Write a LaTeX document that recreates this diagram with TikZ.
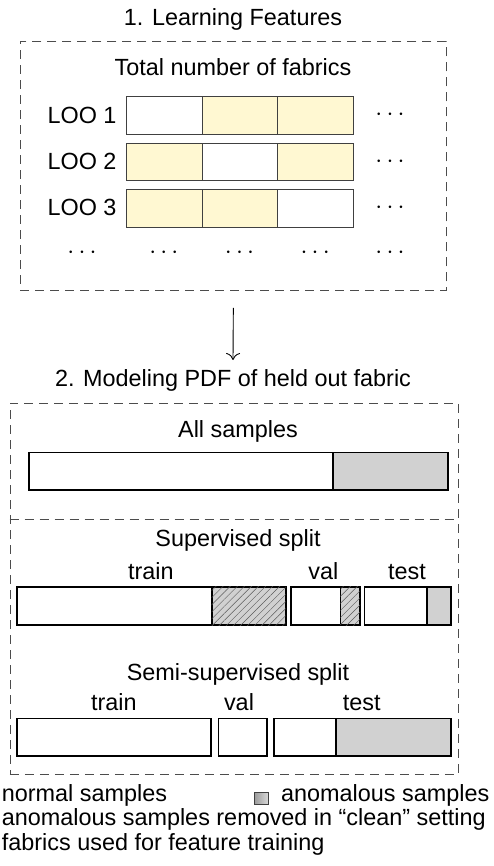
\documentclass[tikz,border=0pt]{standalone}
\usepackage{fontspec}
\setmainfont{Liberation Sans}
\usetikzlibrary{arrows.meta,patterns.meta}
\definecolor{fy}{HTML}{FFF8D2}
\definecolor{ag}{HTML}{D1D1D1}
\begin{document}
\begin{tikzpicture}[x=1pt,y=-1pt,
  every node/.style={font=\fontsize{23.4}{28}\selectfont, inner sep=0pt},
  txt/.style={anchor=base},
  cell/.style={draw=black!75, line width=0.9pt, minimum width=75.7pt, minimum height=37.7pt, anchor=north west},
  dots/.style={anchor=base},
  dashbox/.style={draw=black!70, line width=0.9pt, dash pattern=on 9pt off 6pt},
  bar/.style={draw=black, line width=1.6pt},
  hatch/.style={bar, fill=ag, postaction={pattern={Lines[angle=45,distance=5pt,line width=0.45pt]}, pattern color=black!65}},
  conn/.style={draw=black, line width=0.9pt, -{To[length=7pt,width=14pt,line width=0.9pt]}},
]
\useasboundingbox (0,0) rectangle (494,866);

% ---------- Part 1 ----------
\node[txt] (t1) at (233,25.3) {1. Learning Features};
\node[dashbox, minimum width=426pt, minimum height=249pt, anchor=north west] (box1) at (20,41) {};
\node[txt] (tot) at (233,76) {Total number of fabrics};

\node[txt, anchor=base east] (l1) at (116.7,124) {LOO 1};
\node[txt, anchor=base east] (l2) at (116.7,170) {LOO 2};
\node[txt, anchor=base east] (l3) at (116.7,215.5) {LOO 3};

\node[cell, fill=white] (a1) at (126,96) {};
\node[cell, fill=fy]    (a2) at (201.7,96) {};
\node[cell, fill=fy]    (a3) at (277.4,96) {};
\node[cell, fill=fy]    (b1) at (126,142.7) {};
\node[cell, fill=white] (b2) at (201.7,142.7) {};
\node[cell, fill=fy]    (b3) at (277.4,142.7) {};
\node[cell, fill=fy]    (c1) at (126,189.2) {};
\node[cell, fill=fy]    (c2) at (201.7,189.2) {};
\node[cell, fill=white] (c3) at (277.4,189.2) {};

\node[dots] (d1) at (390,120.7) {$\cdots$};
\node[dots] (d2) at (390,167.3) {$\cdots$};
\node[dots] (d3) at (390,213.8) {$\cdots$};
\node[dots] (e1) at (82,258.9) {$\cdots$};
\node[dots] (e2) at (163.8,258.9) {$\cdots$};
\node[dots] (e3) at (239.5,258.9) {$\cdots$};
\node[dots] (e4) at (315.2,258.9) {$\cdots$};
\node[dots] (e5) at (390,258.9) {$\cdots$};

% ---------- Arrow ----------
\node[txt] (t2) at (233,386.7) {2. Modeling PDF of held out fabric};
\coordinate (arrEnd) at (233,360);
\draw[conn, shorten <=17pt] (box1.south) -- (arrEnd);

% ---------- Part 2 ----------
\node[dashbox, minimum width=448.5pt, minimum height=371pt, anchor=north west] (box2) at (9.5,403) {};
\draw[dashbox] (box2.west |- 0,519) -- (box2.east |- 0,519);

\node[txt] (all) at (238,437.7) {All samples};
\draw[bar, fill=white] (28.7,452.3) rectangle (332.7,490);
\draw[bar, fill=ag] (332.7,452.3) rectangle (447.7,490);

\node[txt] (sup) at (238,546) {Supervised split};
\node[txt] (str) at (150.8,579.3) {train};
\node[txt] (sva) at (323.3,579.3) {val};
\node[txt] (ste) at (407,579.3) {test};
\draw[bar, fill=white] (16.7,586.7) rectangle (211.7,625);
\draw[hatch] (211.7,586.7) rectangle (285.7,625);
\draw[bar, fill=white] (290.7,586.7) rectangle (340.3,625);
\draw[hatch] (340.3,586.7) rectangle (360,625);
\draw[bar, fill=white] (364.3,586.7) rectangle (426.7,625);
\draw[bar, fill=ag] (426.7,586.7) rectangle (450.7,625);

\node[txt] (semi) at (238,680.5) {Semi-supervised split};
\node[txt] (mtr) at (113.8,710) {train};
\node[txt] (mva) at (239,710) {val};
\node[txt] (mte) at (361.7,710) {test};
\draw[bar, fill=white] (16.7,718.3) rectangle (211,755.7);
\draw[bar, fill=white] (218.3,718.3) rectangle (267,755.7);
\draw[bar, fill=white] (274,718.3) rectangle (336,755.7);
\draw[bar, fill=ag] (336,718.3) rectangle (450.7,755.7);

% ---------- Legend ----------
\node[txt, anchor=base west] (n1) at (1.7,801) {normal samples};
\draw[draw=black!75, line width=0.8pt, left color=black!40, right color=black!15] (254,792.7) rectangle (268.3,804.5);
\node[txt, anchor=base west] (n2) at (281,801) {anomalous samples};
\node[txt, anchor=base west] (n3) at (1.7,825.7) {anomalous samples removed in “clean” setting};
\node[txt, anchor=base west] (n4) at (1.7,850.7) {fabrics used for feature training};
\end{tikzpicture}
\end{document}
